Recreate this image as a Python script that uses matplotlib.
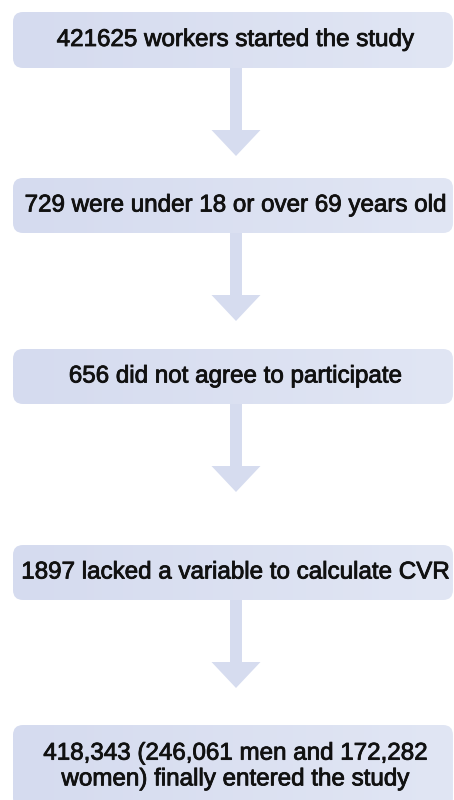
import numpy as np
import matplotlib
matplotlib.use("Agg")
import matplotlib.pyplot as plt
from matplotlib.patches import FancyBboxPatch, FancyArrow
from matplotlib.colors import LinearSegmentedColormap
import matplotlib.patheffects as pe

# ---- data: flowchart steps ----
step_texts = [
    "421625 workers started the study",
    "729 were under 18 or over 69 years old",
    "656 did not agree to participate",
    "1897 lacked a variable to calculate CVR",
    "418,343 (246,061 men and 172,282\nwomen) finally entered the study",
]

# ---- layout (pixels) ----
box_tops = [12, 178, 349, 545, 725]
box_bottoms = [68, 233, 404, 600, 808]
text_centers = [40, 205.5, 376.5, 572.5, 766.5]
box_left, box_right = 13, 453
arrow_x = 236

W, H = 454, 800
fig = plt.figure(figsize=(W / 100, H / 100), dpi=100)
ax = fig.add_axes([0, 0, 1, 1])
ax.set_xlim(0, W)
ax.set_ylim(H, 0)
ax.axis("off")

cmap = LinearSegmentedColormap.from_list("g", ["#d5dbef", "#e1e6f4"])
grad = np.linspace(0, 1, 256).reshape(1, -1)

for i, txt in enumerate(step_texts):
    y0, y1 = box_tops[i], box_bottoms[i]
    patch = FancyBboxPatch((box_left, y0), box_right - box_left, y1 - y0,
                           boxstyle="round,pad=0,rounding_size=10",
                           facecolor="none", edgecolor="none")
    ax.add_patch(patch)
    im = ax.imshow(grad, cmap=cmap, aspect="auto",
                   extent=(box_left, box_right, y1, y0), zorder=1,
                   interpolation="bilinear")
    im.set_clip_path(patch)
    ax.text((box_left + box_right) / 2 + 2, text_centers[i], txt,
            ha="center", va="center", fontsize=17.4,
            family=["Liberation Sans", "DejaVu Sans"], color="#111111",
            linespacing=1.22, zorder=3,
            path_effects=[pe.withStroke(linewidth=0.6, foreground="#111111")])

# arrows between boxes
for i in range(len(step_texts) - 1):
    y_start = box_bottoms[i]
    tip = y_start + 88
    arr = FancyArrow(arrow_x, y_start, 0, tip - y_start, width=12,
                     head_width=49, head_length=26, length_includes_head=True,
                     color="#d6dcef", linewidth=0, zorder=2)
    ax.add_patch(arr)

fig.savefig("out.png", dpi=100)
